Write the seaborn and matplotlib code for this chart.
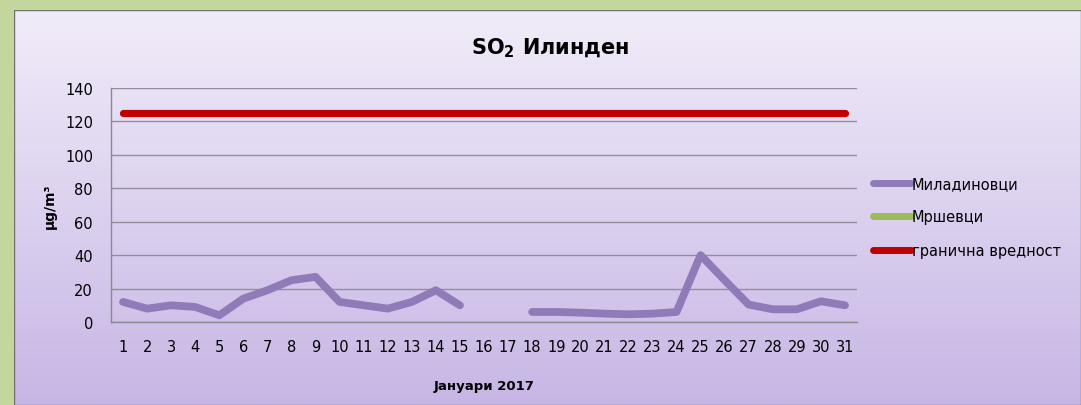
import numpy as np
import pandas as pd
import matplotlib
matplotlib.use("Agg")
import matplotlib.pyplot as plt
from matplotlib.lines import Line2D
from matplotlib.colors import LinearSegmentedColormap
import seaborn as sns

# ---- data ----
days = list(range(1, 32))
miladinovci = [12, 8, 10, 9, 4, 14, 19, 25, 27, 12, 10, 8, 12, 19, 10,
               np.nan, np.nan,
               6, 6, 5.6, 5, 4.6, 5, 6, 40, 25, 10.4, 7.6, 7.6, 12.4, 10]
mrshevci = [np.nan] * 31
limit_value = [125] * 31
series_names = ["Миладиновци", "Мршевци", "гранична вредност"]
series_colors = ["#8f7bb8", "#9bbb59", "#c00000"]
title_text = "SO$_\\mathbf{2}$ Илинден"
x_label = "Јануари 2017"
y_label = "μg/m³"
y_ticks = [0, 20, 40, 60, 80, 100, 120, 140]

sns.set_style("white")
plt.rcParams["font.family"] = ["DejaVu Sans"]
plt.rcParams["text.color"] = "black"
plt.rcParams["axes.labelcolor"] = "black"

W, H = 1081, 406
fig = plt.figure(figsize=(W / 100, H / 100), dpi=100)
fig.patch.set_facecolor("#c3d69b")

# gradient panel
bg = fig.add_axes([14 / W, 0, 1 - 14 / W, 1 - 11 / H], zorder=-5)
grad = np.linspace(0, 1, 256).reshape(-1, 1)
cmap = LinearSegmentedColormap.from_list("g", ["#f1ecf9", "#c7b6e5"])
bg.imshow(grad, aspect="auto", cmap=cmap, extent=[0, 1, 0, 1], origin="upper")
bg.set_axis_off()
bg.add_patch(plt.Rectangle((0, 0), 1, 1, transform=bg.transAxes, fill=False,
                           edgecolor="#6f6f6f", linewidth=1.0))

ax = fig.add_axes([111 / W, 83 / H, (857 - 111) / W, (323 - 89) / H])
ax.patch.set_alpha(0)

df = pd.DataFrame({"day": days, "val": miladinovci})
df["seg"] = df["val"].isna().cumsum()
df = df.dropna()
sns.lineplot(data=df, x="day", y="val", units="seg", estimator=None,
             color=series_colors[0], linewidth=5.6, ax=ax,
             solid_capstyle="round", solid_joinstyle="round")
dfm = pd.DataFrame({"day": days, "val": mrshevci}).dropna()
if len(dfm):
    sns.lineplot(data=dfm, x="day", y="val", color=series_colors[1], linewidth=5.6, ax=ax)
dfl = pd.DataFrame({"day": days, "val": limit_value})
sns.lineplot(data=dfl, x="day", y="val", color=series_colors[2], linewidth=5.2,
             ax=ax, solid_capstyle="round")

ax.set_xlim(0.5, 31.5)
ax.set_ylim(0, 140)
ax.set_yticks(y_ticks)
ax.set_xticks(days)
ax.set_xticks(np.arange(0.5, 32, 1), minor=True)
ax.tick_params(axis="x", which="major", length=0, labelsize=10.5, pad=12, labelcolor="black")
ax.tick_params(axis="x", which="minor", length=5, width=1, color="#8a8a8a", direction="out")
ax.tick_params(axis="y", length=5, width=1, color="#8a8a8a", labelsize=10.5, pad=8, labelcolor="black")
ax.yaxis.grid(True, color="#948da0", linewidth=1)
ax.set_axisbelow(True)
for s in ["top", "right"]:
    ax.spines[s].set_visible(False)
for s in ["left", "bottom"]:
    ax.spines[s].set_color("#8a8a8a")
    ax.spines[s].set_linewidth(1)

ax.set_xlabel(x_label, fontsize=9.5, fontweight="bold", labelpad=18)
ax.set_ylabel(y_label, fontsize=10, fontweight="bold", labelpad=6)
ax.set_title(title_text, fontsize=15, fontweight="bold", pad=25, x=(550 - 111) / (857 - 111))

handles = [Line2D([0], [0], color=c, linewidth=5, solid_capstyle="round") for c in series_colors]
ax.legend(handles, series_names, loc="center left", bbox_to_anchor=(873 / W, (H - 218) / H),
          bbox_transform=fig.transFigure, frameon=False, fontsize=10.5,
          handlelength=2.6, handletextpad=0.05, labelspacing=1.25, borderaxespad=0,
          borderpad=0, labelcolor="black")

fig.savefig("out.png", dpi=100, facecolor=fig.get_facecolor())
